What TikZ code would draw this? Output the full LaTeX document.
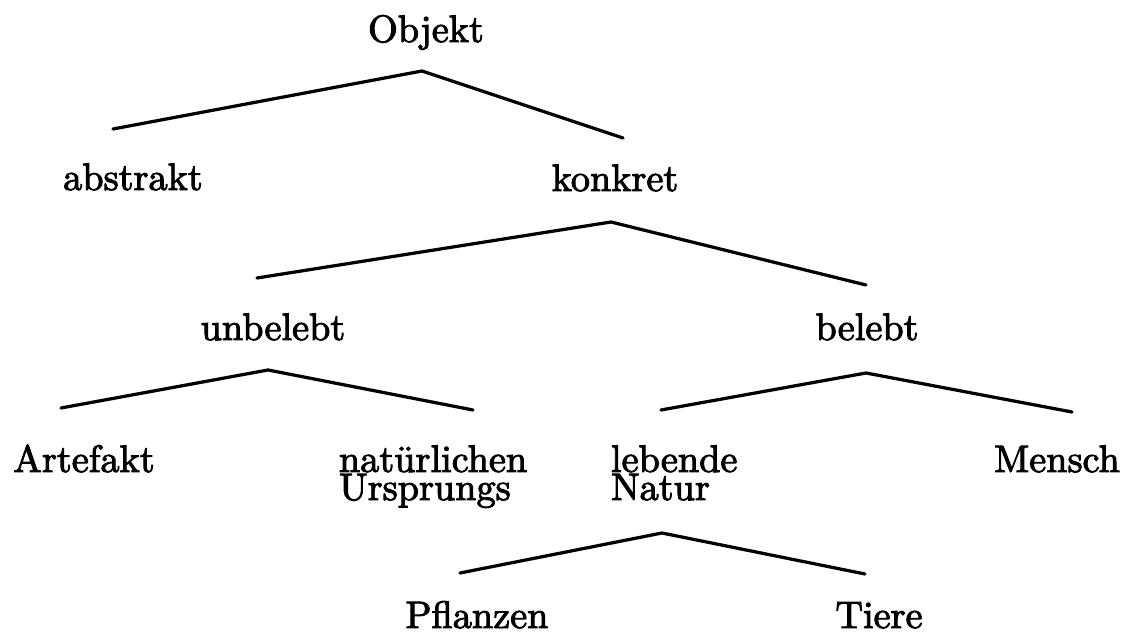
\documentclass[tikz,border=0pt]{standalone}
\usetikzlibrary{calc}
% Latin Modern, emboldened, for all tree labels
\font\lbfont="[lmroman10-regular.otf]:embolden=2.5" at 27.2pt
\newcommand\lblsetup{\lbfont\baselineskip 20pt\relax}
\begin{document}
\begin{tikzpicture}[x=0.025cm,y=-0.025cm,
  lbl/.style={inner sep=0pt,outer sep=0pt,font=\lblsetup},
  branch/.style={line width=2.3pt,line join=round,line cap=round}]
\useasboundingbox (0,0) rectangle (1132,635);
% labels, placed on their baselines
\node[lbl,anchor=base] (objekt)   at (426,42)  {Objekt};
\node[lbl,anchor=base] (abstrakt) at (133,190) {abstrakt};
\node[lbl,anchor=base] (konkret)  at (615,191) {konkret};
\node[lbl,anchor=base] (unbelebt) at (273,340) {unbelebt};
\node[lbl,anchor=base] (belebt)   at (867,340) {belebt};
\node[lbl,anchor=base] (artefakt) at (84,472)  {Artefakt};
\node[lbl,anchor=base west,align=left] (natuerlich) at (339,500) {natürlichen\\Ursprungs};
\node[lbl,anchor=base west,align=left] (lebend)     at (611,500) {lebende\\Natur};
\node[lbl,anchor=base] (mensch)   at (1057,472) {Mensch};
\node[lbl,anchor=base,text depth=0pt] (pflanzen) at (477,628) {Pflanzen};
\node[lbl,anchor=base,text depth=0pt] (tiere)    at (879,628) {Tiere};
% branch points and branch ends
\coordinate (a0) at (422,71);  \coordinate (a0l) at (113,129); \coordinate (a0r) at (623,138);
\coordinate (a1) at (611,222); \coordinate (a1l) at (257,278); \coordinate (a1r) at (866,285);
\coordinate (a2) at (268,370); \coordinate (a2l) at (61,408);  \coordinate (a2r) at (473,410);
\coordinate (a3) at (866,373); \coordinate (a3l) at (661,410); \coordinate (a3r) at (1072,412);
\coordinate (a4) at (662,533); \coordinate (a4l) at (460,573); \coordinate (a4r) at (865,574);
\draw[branch] (a0l) -- (a0) -- (a0r);
\draw[branch] (a1l) -- (a1) -- (a1r);
\draw[branch] (a2l) -- (a2) -- (a2r);
\draw[branch] (a3l) -- (a3) -- (a3r);
\draw[branch] (a4l) -- (a4) -- (a4r);
\end{tikzpicture}
\end{document}
